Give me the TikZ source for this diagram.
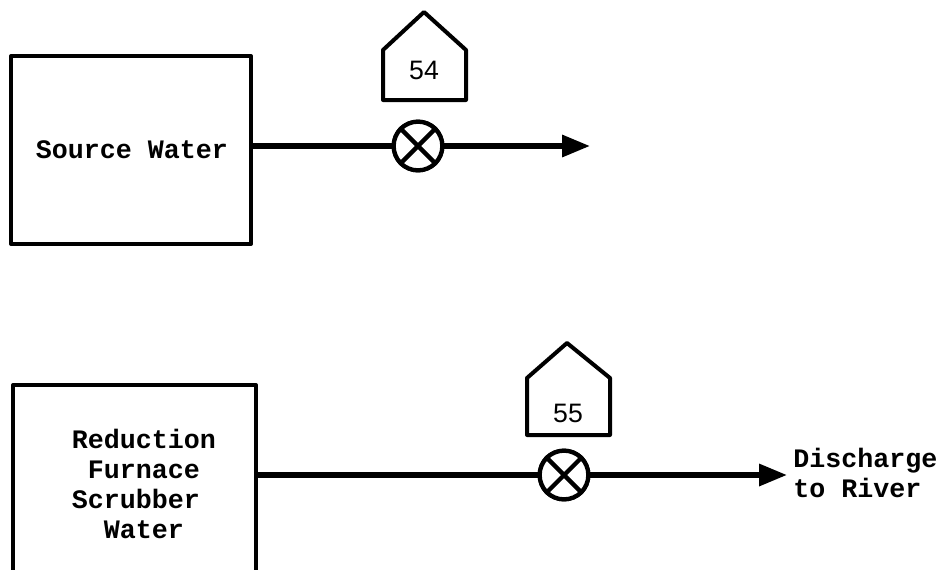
\documentclass[tikz,border=0pt]{standalone}
\usepackage{fontspec}
\setmainfont{Liberation Mono}
\newfontfamily\numfont{Liberation Sans}
\usetikzlibrary{arrows.meta}
\tikzset{
  box/.style={draw=black,line width=3pt,rectangle,line join=round,inner sep=0pt},
  house/.style={draw=black,line width=3pt,line join=round},
  flow/.style={draw=black,line width=4pt,-{Triangle[length=21pt,width=16pt]}},
  plainflow/.style={draw=black,line width=4pt},
  valve/.style={draw=black,line width=3.2pt,circle,minimum size=36.5pt,inner sep=0pt,fill=white},
  cross/.style={line width=3.2pt},
  txt/.style={font=\fontsize{20}{22.5}\selectfont\bfseries,inner sep=0pt},
  num/.style={font=\numfont\fontsize{20}{20}\selectfont,inner sep=0pt}
}
\begin{document}
\begin{tikzpicture}[x=0.75pt,y=-0.75pt]
\useasboundingbox (0,0) rectangle (939,569);
\node[box,minimum width=180pt,minimum height=141pt] (src) at (131,150) {};
\node[txt] (srctxt) at (132,150) {Source Water};
\node[box,minimum width=182pt,minimum height=191pt] (red) at (134.5,512.5) {};
\node[txt,align=left] (redtxt) at (144,484) {Reduction\\\ Furnace\\Scrubber\\\ \ Water};
\node[valve] (v1) at (418,146) {};
\node[valve] (v2) at (564,475) {};
\coordinate (e1) at (590,146);
\coordinate (e2) at (787,475);
\draw[plainflow] (src.east |- v1) -- (v1);
\draw[plainflow] (red.east |- v2) -- (v2);
\draw[flow] (v1) -- (e1);
\draw[flow] (v2) -- (e2);
\node[valve] at (v1) {};
\node[valve] at (v2) {};
\draw[cross] (v1.north west) -- (v1.south east) (v1.north east) -- (v1.south west);
\draw[cross] (v2.north west) -- (v2.south east) (v2.north east) -- (v2.south west);
\draw[house] (383,100) -- (383,50) -- (424,12) -- (466,50) -- (466,100) -- cycle;
\node[num] (n54) at (424,70) {54};
\draw[house] (527,435) -- (527,378) -- (567,343) -- (610,378) -- (610,435) -- cycle;
\node[num] (n55) at (568,413) {55};
\node[txt,align=left,anchor=west] (dis) at (793,473) {Discharge\\to River};
\end{tikzpicture}
\end{document}
